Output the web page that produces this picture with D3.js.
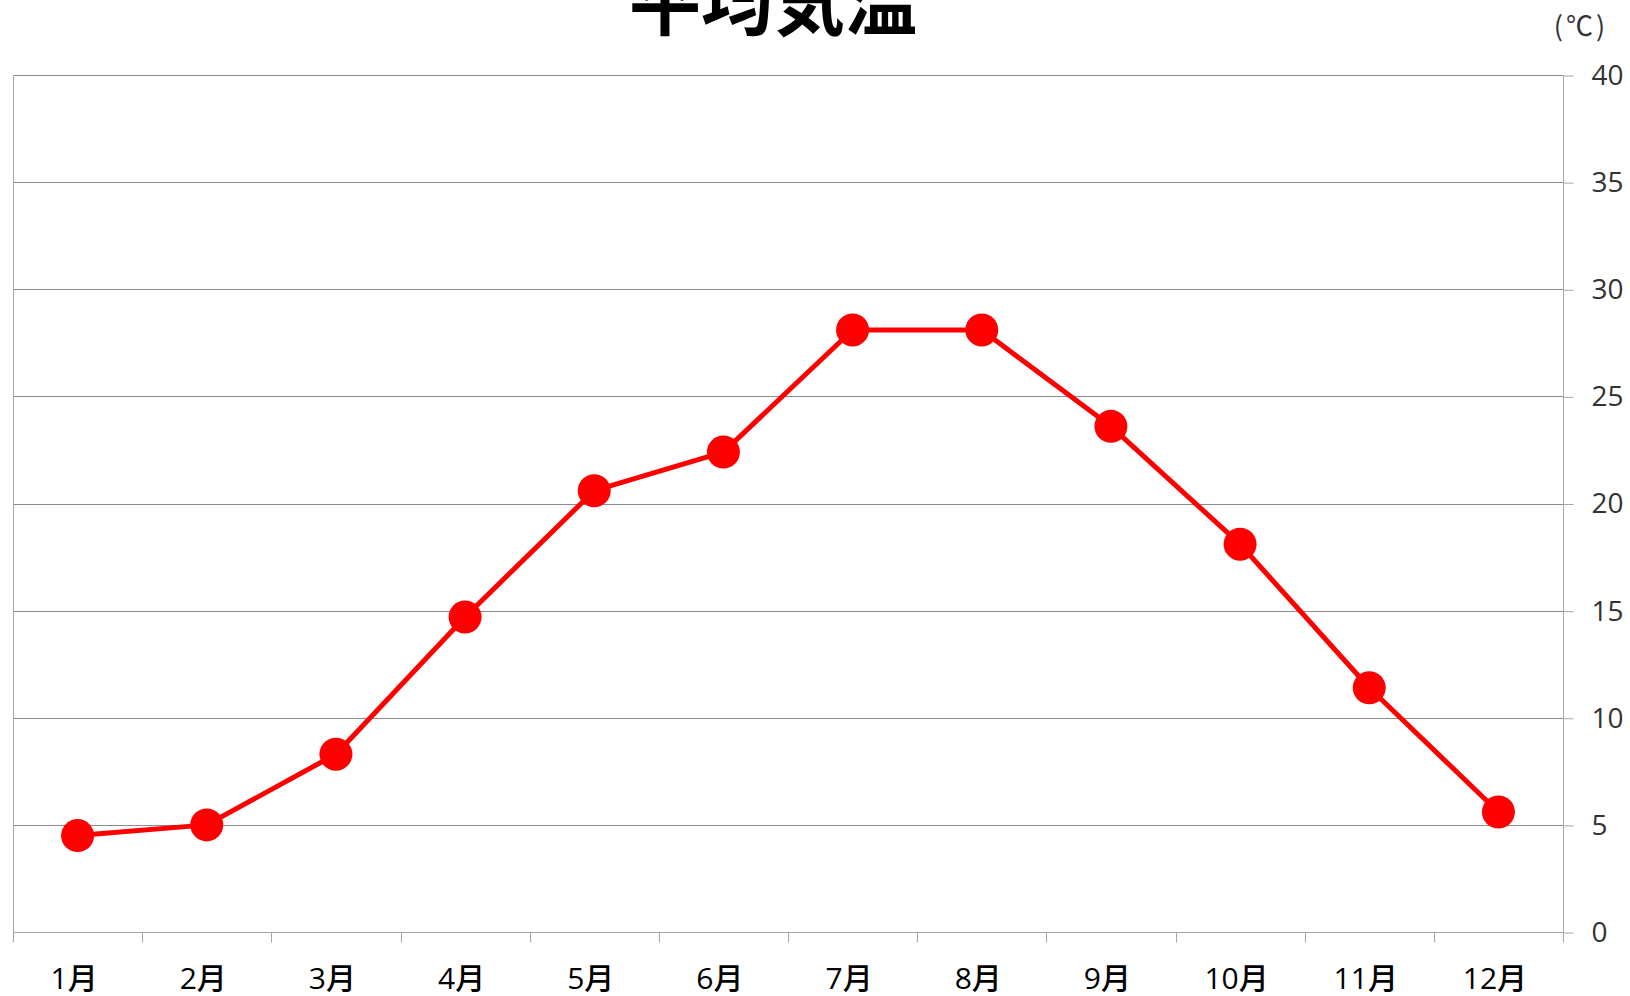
<!DOCTYPE html>
<html>
<head>
<meta charset="utf-8">
<script src="https://cdn.jsdelivr.net/npm/d3@7"></script>
<style>
  html, body { margin: 0; padding: 0; background: #fff; }
  svg { display: block; }
</style>
</head>
<body>
<div id="chart"></div>
<script>
// 月
const months = ['1月', '2月', '3月', '4月', '5月', '6月', '7月', '8月', '9月', '10月', '11月', '12月'];
// 平均気温 (℃)
const temps = [4.5, 5.0, 8.3, 14.7, 20.6, 22.4, 28.1, 28.1, 23.6, 18.1, 11.4, 5.6];
const yTicks = [0, 5, 10, 15, 20, 25, 30, 35, 40];

const width = 1630, height = 996;
const margin = { top: 75, right: 67, bottom: 64, left: 13 };

const svg = d3.select('#chart').append('svg')
  .attr('width', width)
  .attr('height', height);

const x = d3.scaleBand().domain(months).range([margin.left, width - margin.right]);
const y = d3.scaleLinear().domain([0, 40]).range([height - margin.bottom, margin.top]);

const fontJP = '"Noto Sans CJK JP", "Noto Sans", sans-serif';
const fontLabel = '"Open Sans", "Noto Sans CJK JP", sans-serif';

// グリッド線
svg.append('g')
  .selectAll('line')
  .data(yTicks)
  .join('line')
  .attr('x1', margin.left)
  .attr('x2', width - margin.right)
  .attr('y1', d => Math.round(y(d)) + 0.5)
  .attr('y2', d => Math.round(y(d)) + 0.5)
  .attr('stroke', '#8c8c8c')
  .attr('stroke-width', 1);

// 左の枠線
svg.append('line')
  .attr('x1', margin.left + 0.5).attr('x2', margin.left + 0.5)
  .attr('y1', margin.top).attr('y2', height - margin.bottom)
  .attr('stroke', '#a6a6a6');

// 右の軸
const yAxis = svg.append('g')
  .attr('transform', `translate(${width - margin.right + 0.5},0.5)`)
  .call(d3.axisRight(y).tickValues(yTicks).tickSize(10).tickPadding(18));
yAxis.select('.domain').attr('stroke', '#a6a6a6').attr('d', `M0,${y(40)}V${y(0)}`);
yAxis.selectAll('.tick line').attr('stroke', '#a6a6a6');
yAxis.selectAll('.tick text')
  .attr('fill', '#333')
  .attr('font-size', 28)
  .attr('font-family', fontLabel);

// 下の軸
const xAxis = svg.append('g')
  .attr('transform', `translate(0,${Math.round(y(0)) + 0.5})`);
xAxis.append('line')
  .attr('x1', margin.left).attr('x2', width - margin.right)
  .attr('stroke', '#a6a6a6');
xAxis.selectAll('.xtick')
  .data(d3.range(months.length + 1))
  .join('line')
  .attr('class', 'xtick')
  .attr('x1', i => Math.round(margin.left + x.step() * i) + 0.5)
  .attr('x2', i => Math.round(margin.left + x.step() * i) + 0.5)
  .attr('y1', 0).attr('y2', 10)
  .attr('stroke', '#a6a6a6');
xAxis.selectAll('.xlabel')
  .data(months)
  .join('text')
  .attr('class', 'xlabel')
  .attr('x', d => x(d) + x.bandwidth() / 2 - 3.5)
  .attr('y', 56)
  .attr('text-anchor', 'middle')
  .attr('font-size', 30)
  .attr('font-weight', 500)
  .attr('font-family', fontLabel)
  .attr('fill', '#000')
  .text(d => d);

// 折れ線
const line = d3.line()
  .x((d, i) => x(months[i]) + x.bandwidth() / 2)
  .y(d => y(d));

svg.append('path')
  .datum(temps)
  .attr('d', line)
  .attr('fill', 'none')
  .attr('stroke', '#ff0000')
  .attr('stroke-width', 5)
  .attr('stroke-linejoin', 'round');

svg.append('g')
  .selectAll('circle')
  .data(temps)
  .join('circle')
  .attr('cx', (d, i) => x(months[i]) + x.bandwidth() / 2)
  .attr('cy', d => y(d))
  .attr('r', 16.5)
  .attr('fill', '#ff0000');

// タイトル
svg.append('text')
  .attr('x', 773)
  .attr('y', 29)
  .attr('text-anchor', 'middle')
  .attr('font-size', 72)
  .attr('font-weight', 'bold')
  .attr('font-family', fontJP)
  .attr('fill', '#000')
  .text('平均気温');

// 単位
svg.append('text')
  .attr('x', 1581)
  .attr('y', 36)
  .attr('text-anchor', 'middle')
  .attr('font-size', 27)
  .attr('letter-spacing', 3)
  .attr('font-family', fontJP)
  .attr('fill', '#333')
  .text('(℃)');
</script>
</body>
</html>
